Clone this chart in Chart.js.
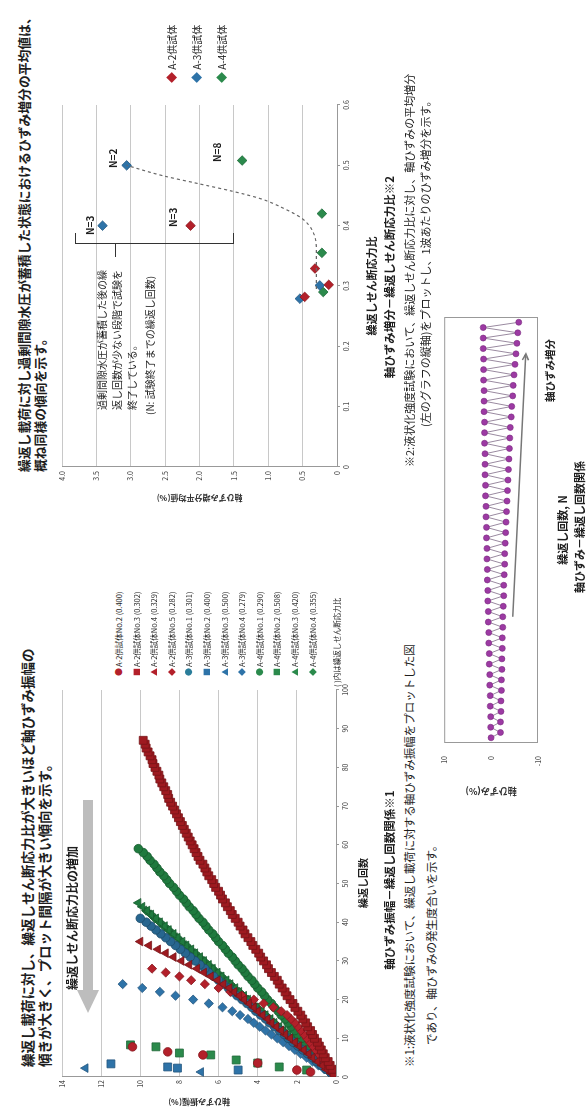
<!DOCTYPE html>
<html lang="ja">
<head>
<meta charset="utf-8">
<title>軸ひずみ振幅・軸ひずみ増分</title>
<script src="https://cdn.jsdelivr.net/npm/chart.js@4.4.1/dist/chart.umd.min.js"></script>
<style>
html, body { margin: 0; padding: 0; background: #fff; }
body { width: 588px; height: 1107px; overflow: hidden; position: relative; }
#page { position: absolute; left: 0; top: 0; width: 1107px; height: 588px;
  transform-origin: 0 0; transform: translate(0, 1107px) rotate(-90deg);
  font-family: 'Noto Sans CJK JP', sans-serif; color: #1e1e1e; }
#page canvas { position: absolute; }
.t { position: absolute; white-space: nowrap; line-height: 1; }
.b { font-weight: bold; }
.c { transform: translateX(-50%); }
.lg { position: absolute; white-space: nowrap; line-height: 1; font-size: 7.5px; }
.lg span { display: inline-block; width: 9px; font-size: 8px; }
</style>
</head>
<body>
<div id="page">
  <!-- 左：軸ひずみ振幅 -->
  <div class="t b" style="left:40px;top:21px;font-size:13.5px">繰返し載荷に対し、繰返しせん断応力比が大きいほど軸ひずみ振幅の</div>
  <div class="t b" style="left:40px;top:38px;font-size:13.5px">傾きが大きく、プロット間隔が大きい傾向を示す。</div>
  <canvas id="amp" width="425" height="315" style="left:0;top:50px"></canvas>
  <div class="t b" style="left:117px;top:66px;font-size:12px">繰返しせん断応力比の増加</div>
  <div style="position:absolute;left:117px;top:83px;width:190px;height:10px;background:#bdbdbd"></div>
  <div style="position:absolute;left:94px;top:77px;width:0;height:0;border-top:11px solid transparent;border-bottom:11px solid transparent;border-right:23px solid #bdbdbd"></div>
  <div id="legAmp"></div>
  <div class="t" style="left:420px;top:333px;font-size:7.5px">( )内は繰返しせん断応力比</div>
  <div class="t b c" style="left:224px;top:358px;font-size:10px">繰返し回数</div>
  <div class="t b c" style="left:227px;top:384px;font-size:11.5px">軸ひずみ振幅－繰返し回数関係※1</div>
  <div class="t" style="left:40px;top:404px;font-size:11.5px">※1:液状化強度試験において、繰返し載荷に対する軸ひずみ振幅をプロットした図</div>
  <div class="t" style="left:62px;top:426px;font-size:11.5px">であり、軸ひずみの発生度合いを示す。</div>

  <!-- 右：軸ひずみ増分 -->
  <div class="t b" style="left:635px;top:18px;font-size:12.8px">繰返し載荷に対し過剰間隙水圧が蓄積した状態におけるひずみ増分の平均値は、</div>
  <div class="t b" style="left:635px;top:34px;font-size:12.8px">概ね同様の傾向を示す。</div>
  <canvas id="inc" width="450" height="315" style="left:590px;top:50px"></canvas>
  <div id="legInc"></div>
  <div class="t b" style="left:939px;top:108px;font-size:10px">N=2</div>
  <div class="t b" style="left:872px;top:85px;font-size:10px">N=3</div>
  <div class="t b" style="left:880px;top:168px;font-size:10px">N=3</div>
  <div class="t b" style="left:945px;top:212px;font-size:10px">N=8</div>
  <div style="position:absolute;left:863px;top:75px;width:10px;height:157px;border:1px solid #333;border-right:none"></div>
  <div style="position:absolute;left:850px;top:115px;width:13px;height:0;border-top:1px solid #333"></div>
  <div class="t" style="left:697px;top:97px;font-size:10px">過剰間隙水圧が蓄積した後の繰</div>
  <div class="t" style="left:697px;top:112px;font-size:10px">返し回数が少ない段階で試験を</div>
  <div class="t" style="left:697px;top:127px;font-size:10px">終了している。</div>
  <div class="t" style="left:692px;top:145px;font-size:10px">(N: 試験終了までの繰返し回数)</div>
  <div class="t b c" style="left:821px;top:366px;font-size:11px">繰返しせん断応力比</div>
  <div class="t b c" style="left:830px;top:384px;font-size:11.5px">軸ひずみ増分－繰返しせん断応力比※2</div>
  <div class="t" style="left:640px;top:404px;font-size:11px">※2:液状化強度試験において、繰返しせん断応力比に対し、軸ひずみの平均増分</div>
  <div class="t" style="left:680px;top:420px;font-size:11px">(左のグラフの縦軸)をプロットし、1波あたりのひずみ増分を示す。</div>

  <!-- 模式図 -->
  <canvas id="schem" width="510" height="120" style="left:290px;top:435px"></canvas>
  <div class="t b" style="left:705px;top:545px;font-size:10.5px">軸ひずみ増分</div>
  <div class="t b c" style="left:577px;top:557px;font-size:11px">繰返し回数, N</div>
  <div class="t b c" style="left:580px;top:574px;font-size:11px">軸ひずみ－繰返し回数関係</div>
</div>

<script>
// 左グラフ：軸ひずみ振幅(%)。N配列のないものは N = 1,2,3... の各波
const N_A2_2 = [1.3, 1.8, 3.6, 5.7, 6.5, 7.8];
const S_A2_2 = [1.3, 2.0, 4.0, 6.8, 8.6, 10.4];
const S_A2_3 = [0.1, 0.2, 0.3, 0.4, 0.55, 0.65, 0.75, 0.85, 0.95, 1.1,
  1.2, 1.3, 1.45, 1.55, 1.7, 1.8, 1.95, 2.1, 2.2, 2.35,
  2.5, 2.6, 2.75, 2.9, 3.0, 3.15, 3.3, 3.45, 3.55, 3.7,
  3.85, 3.95, 4.1, 4.25, 4.35, 4.5, 4.65, 4.75, 4.9, 5.0,
  5.15, 5.3, 5.4, 5.55, 5.65, 5.8, 5.9, 6.0, 6.15, 6.25,
  6.35, 6.5, 6.6, 6.7, 6.8, 6.95, 7.05, 7.15, 7.25, 7.35,
  7.45, 7.55, 7.65, 7.75, 7.85, 7.95, 8.05, 8.15, 8.25, 8.35,
  8.45, 8.55, 8.6, 8.7, 8.8, 8.9, 9.0, 9.05, 9.15, 9.25,
  9.35, 9.4, 9.5, 9.6, 9.7, 9.75, 9.85];
const S_A2_4 = [0.25, 0.5, 0.7, 0.95, 1.2, 1.4, 1.65, 1.9, 2.1, 2.35,
  2.6, 2.8, 3.05, 3.3, 3.5, 3.75, 4.0, 4.2, 4.45, 4.7,
  4.95, 5.2, 5.45, 5.75, 6.05, 6.4, 6.75, 7.1, 7.5, 7.9,
  8.3, 8.7, 9.1, 9.55, 10.0];
const S_A2_5 = [0.15, 0.3, 0.45, 0.6, 0.75, 0.9, 1.05, 1.2, 1.35, 1.5,
  1.65, 1.8, 1.95, 2.1, 2.3, 2.5, 2.8, 3.2, 3.7, 4.2,
  4.8, 5.4, 6.0, 6.7, 7.4, 8.0, 8.7, 9.4];
const S_A3_1 = [0.25, 0.5, 0.75, 1.0, 1.2, 1.45, 1.7, 1.95, 2.2, 2.45,
  2.65, 2.9, 3.15, 3.4, 3.6, 3.85, 4.1, 4.3, 4.55, 4.8,
  5.05, 5.3, 5.5, 5.75, 6.0, 6.25, 6.5, 6.7, 6.95, 7.2,
  7.45, 7.7, 7.95, 8.2, 8.45, 8.7, 8.95, 9.2, 9.45, 9.7, 10.0];
const N_A3_2 = [1.8, 2.3, 2.6, 3.4];
const S_A3_2 = [5.0, 8.1, 8.6, 11.5];
const N_A3_3 = [1.3, 2.3];
const S_A3_3 = [6.9, 12.8];
const S_A3_4 = [0.3, 0.6, 0.9, 1.2, 1.5, 1.8, 2.1, 2.4, 2.7, 3.0,
  3.3, 3.6, 3.9, 4.2, 4.5, 4.9, 5.3, 5.8, 6.5, 7.3,
  8.2, 9.0, 9.9, 10.9];
const S_A4_1 = [0.2, 0.35, 0.55, 0.7, 0.9, 1.05, 1.25, 1.4, 1.6, 1.75,
  1.95, 2.1, 2.3, 2.45, 2.6, 2.8, 2.95, 3.15, 3.3, 3.5,
  3.65, 3.8, 4.0, 4.15, 4.3, 4.5, 4.65, 4.8, 5.0, 5.15,
  5.3, 5.5, 5.65, 5.8, 6.0, 6.15, 6.3, 6.5, 6.65, 6.8,
  7.0, 7.15, 7.3, 7.5, 7.65, 7.8, 8.0, 8.15, 8.3, 8.5,
  8.65, 8.8, 9.0, 9.15, 9.3, 9.5, 9.65, 9.85, 10.1];
const N_A4_2 = [1.8, 2.6, 3.6, 4.4, 5.7, 6.2, 7.8, 8.3];
const S_A4_2 = [1.5, 2.9, 4.0, 5.1, 6.4, 8.0, 9.2, 10.5];
const S_A4_3 = [0.2, 0.45, 0.65, 0.9, 1.1, 1.35, 1.55, 1.8, 2.0, 2.25,
  2.45, 2.7, 2.9, 3.15, 3.35, 3.6, 3.8, 4.05, 4.25, 4.5,
  4.7, 4.95, 5.15, 5.4, 5.6, 5.85, 6.05, 6.3, 6.5, 6.75,
  6.95, 7.2, 7.4, 7.65, 7.85, 8.1, 8.3, 8.55, 8.75, 9.0,
  9.2, 9.45, 9.65, 9.9, 10.1];
const S_A4_4 = [0.25, 0.45, 0.7, 0.9, 1.15, 1.35, 1.6, 1.8, 2.05, 2.25,
  2.5, 2.7, 2.95, 3.15, 3.4, 3.6, 3.85, 4.05, 4.3, 4.5,
  4.75, 4.95, 5.2, 5.4, 5.65, 5.85, 6.1, 6.3, 6.55, 6.75,
  7.0, 7.2, 7.45, 7.65, 7.9, 8.1, 8.35, 8.55, 8.8, 9.0,
  9.25, 9.45, 9.7];

// 右グラフ：繰返しせん断応力比と軸ひずみ増分平均値(%)
const ratioA2 = [0.400, 0.302, 0.329, 0.282];
const incA2 = [2.13, 0.12, 0.32, 0.47];
const ratioA3 = [0.301, 0.400, 0.500, 0.279];
const incA3 = [0.25, 3.41, 3.06, 0.54];
const ratioA4 = [0.290, 0.508, 0.420, 0.355];
const incA4 = [0.20, 1.38, 0.22, 0.22];
const trendRatio = [0.295, 0.36, 0.39, 0.412, 0.43, 0.445, 0.457, 0.47, 0.483, 0.50];
const trendInc = [0.30, 0.30, 0.35, 0.51, 0.80, 1.12, 1.52, 2.03, 2.54, 3.06];

// 模式図：各波の山と谷の軸ひずみ(%)
const schemTop = [0.0, 0.1, 0.1, 0.2, 0.2, 0.3, 0.3, 0.4, 0.4, 0.5,
  0.5, 0.6, 0.6, 0.7, 0.7, 0.8, 0.8, 0.9, 0.9, 1.0,
  1.0, 1.1, 1.1, 1.2, 1.2, 1.3, 1.3, 1.3, 1.4, 1.4,
  1.4, 1.5, 1.5, 1.5, 1.6, 1.6, 1.6, 1.7, 1.7, 1.7];
const schemBottom = [-2.0, -2.0, -2.1, -2.1, -2.2, -2.2, -2.3, -2.3, -2.4, -2.4,
  -2.5, -2.5, -2.6, -2.7, -2.7, -2.8, -2.9, -2.9, -3.0, -3.1,
  -3.2, -3.3, -3.4, -3.5, -3.6, -3.7, -3.8, -3.9, -4.0, -4.1,
  -4.3, -4.4, -4.6, -4.7, -4.9, -5.1, -5.3, -5.5, -5.7, -5.9];
const schemArrow = [[12, -4.6], [37, -7.4]]; // 軸ひずみ増分の矢印 (N, %)

const RED = '#b3202a', RED_D = '#8c141b';
const BLUE = '#2e73a8', BLUE_D = '#1f5580';
const GREEN = '#2b8a4c', GREEN_D = '#1c6a37';
// 密な曲線は暗めの色で太い帯に見える
const RED_BAND = '#9e1a20', BLUE_BAND = '#27668f', GREEN_BAND = '#1f7a3e';

Chart.defaults.font.family = "'Noto Sans CJK JP', sans-serif";
Chart.defaults.color = '#333';

function fixWidth(w) { return function (s) { s.width = w; }; }
function fixHeight(h) { return function (s) { s.height = h; }; }

function pts(ns, vals) {
  return vals.map(function (v, i) { return { x: ns ? ns[i] : i + 1, y: v }; });
}

// [凡例, N, 値, 形, 凡例色, 点の色, 記号]
const ampSeries = [
  ['A-2供試体No.2 (0.400)', N_A2_2, S_A2_2, 'circle', RED, RED, '●'],
  ['A-2供試体No.3 (0.302)', null, S_A2_3, 'rect', RED, RED_BAND, '■'],
  ['A-2供試体No.4 (0.329)', null, S_A2_4, 'triangle', RED, RED_BAND, '▲'],
  ['A-2供試体No.5 (0.282)', null, S_A2_5, 'rectRot', RED, RED, '◆'],
  ['A-3供試体No.1 (0.301)', null, S_A3_1, 'circle', '#2a7d9a', BLUE_BAND, '●'],
  ['A-3供試体No.2 (0.400)', N_A3_2, S_A3_2, 'rect', BLUE, BLUE, '■'],
  ['A-3供試体No.3 (0.500)', N_A3_3, S_A3_3, 'triangle', BLUE, BLUE, '▲'],
  ['A-3供試体No.4 (0.279)', null, S_A3_4, 'rectRot', BLUE, BLUE, '◆'],
  ['A-4供試体No.1 (0.290)', null, S_A4_1, 'circle', GREEN, GREEN_BAND, '●'],
  ['A-4供試体No.2 (0.508)', N_A4_2, S_A4_2, 'rect', GREEN, GREEN, '■'],
  ['A-4供試体No.3 (0.420)', null, S_A4_3, 'triangle', GREEN, GREEN_BAND, '▲'],
  ['A-4供試体No.4 (0.355)', null, S_A4_4, 'rectRot', GREEN, GREEN_BAND, '◆']
];

const radiusFor = { circle: 4.3, rect: 5.6, triangle: 5.0, rectRot: 4.6 };

function darker(hex) {
  const n = parseInt(hex.slice(1), 16);
  const r = Math.round(((n >> 16) & 255) * 0.75), g = Math.round(((n >> 8) & 255) * 0.75), b = Math.round((n & 255) * 0.75);
  return 'rgb(' + r + ',' + g + ',' + b + ')';
}

new Chart(document.getElementById('amp'), {
  type: 'scatter',
  data: {
    datasets: ampSeries.map(function (s) {
      return {
        label: s[0], data: pts(s[1], s[2]), pointStyle: s[3],
        pointRadius: radiusFor[s[3]], backgroundColor: s[5],
        borderColor: darker(s[5]), borderWidth: 0.8, showLine: false
      };
    })
  },
  options: {
    responsive: false, animation: false,
    layout: { padding: { top: 12, right: 8, left: 0, bottom: 0 } },
    plugins: { legend: { display: false }, tooltip: { enabled: false } },
    scales: {
      x: {
        type: 'linear', min: 0, max: 100, afterFit: fixHeight(29),
        ticks: { stepSize: 10, font: { size: 7 }, maxRotation: 0, padding: 2 },
        grid: { drawOnChartArea: false, tickLength: 3, color: '#999' },
        border: { color: '#999' }
      },
      y: {
        min: 0, max: 14, afterFit: fixWidth(30),
        ticks: { stepSize: 2, font: { size: 7 }, padding: 3 },
        grid: { color: '#c8c8c8', drawTicks: false },
        border: { color: '#999' },
        title: { display: true, text: '軸ひずみ振幅(%)', font: { size: 8, weight: 'bold' }, padding: 0 }
      }
    }
  }
});

// 左グラフの凡例
let legHtml = '';
ampSeries.forEach(function (s, i) {
  legHtml += '<div class="lg" style="left:431px;top:' + (115 + i * 17.6) + 'px"><span style="color:' + s[4] + '">' + s[6] + '</span>' + s[0] + '</div>';
});
document.getElementById('legAmp').innerHTML = legHtml;

// 右グラフ
const incSeries = [
  ['A-2供試体', ratioA2, incA2, RED, RED_D],
  ['A-3供試体', ratioA3, incA3, BLUE, BLUE_D],
  ['A-4供試体', ratioA4, incA4, GREEN, GREEN_D]
];

const incDatasets = incSeries.map(function (s) {
  return {
    label: s[0], data: pts(s[1], s[2]), pointStyle: 'rectRot', pointRadius: 4.8,
    backgroundColor: s[3], borderColor: s[4], borderWidth: 0.8, showLine: false
  };
});
incDatasets.unshift({
  label: 'trend', data: pts(trendRatio, trendInc), showLine: true, pointRadius: 0,
  borderColor: '#666', borderWidth: 1.2, borderDash: [3, 3], tension: 0.4, cubicInterpolationMode: 'monotone'
});

new Chart(document.getElementById('inc'), {
  type: 'scatter',
  data: { datasets: incDatasets },
  options: {
    responsive: false, animation: false,
    layout: { padding: { top: 12, right: 38, left: 0, bottom: 0 } },
    plugins: { legend: { display: false }, tooltip: { enabled: false } },
    scales: {
      x: {
        type: 'linear', min: 0, max: 0.6, afterFit: fixHeight(28),
        ticks: { stepSize: 0.1, font: { size: 7 }, maxRotation: 0, padding: 2,
          callback: function (v) { return +v.toFixed(1); } },
        grid: { drawOnChartArea: false, tickLength: 3, color: '#999' },
        border: { color: '#999' }
      },
      y: {
        min: 0, max: 4, afterFit: fixWidth(50),
        ticks: { stepSize: 0.5, font: { size: 7 }, padding: 4 },
        grid: { color: '#c8c8c8', drawTicks: false },
        border: { color: '#999' },
        title: { display: true, text: '軸ひずみ増分平均値(%)', font: { size: 8, weight: 'bold' }, padding: { top: 14, bottom: 0 } }
      }
    }
  }
});

let legIncHtml = '';
incSeries.forEach(function (s, i) {
  legIncHtml += '<div class="t" style="left:1024px;top:' + (166 + i * 25) + 'px;font-size:10px"><span style="color:' + s[3] + ';font-size:11px">◆</span> ' + s[0] + '</div>';
});
document.getElementById('legInc').innerHTML = legIncHtml;

// 模式図
const zig = [];
schemTop.forEach(function (v, i) {
  zig.push({ x: i + 0.5, y: v });
  zig.push({ x: i + 1, y: schemBottom[i] });
});

const schemFrame = {
  id: 'schemFrame',
  afterDraw: function (chart) {
    const a = chart.chartArea, ctx = chart.ctx;
    const xs = chart.scales.x, ys = chart.scales.y;
    ctx.save();
    ctx.strokeStyle = '#999';
    ctx.lineWidth = 1;
    ctx.strokeRect(a.left + 0.5, a.top + 0.5, a.right - a.left - 1, a.bottom - a.top - 1);
    const x0 = xs.getPixelForValue(schemArrow[0][0]), y0 = ys.getPixelForValue(schemArrow[0][1]);
    const x1 = xs.getPixelForValue(schemArrow[1][0]), y1 = ys.getPixelForValue(schemArrow[1][1]);
    const ang = Math.atan2(y1 - y0, x1 - x0);
    ctx.strokeStyle = '#777';
    ctx.lineWidth = 1.5;
    ctx.beginPath();
    ctx.moveTo(x0, y0);
    ctx.lineTo(x1, y1);
    ctx.moveTo(x1 - 7 * Math.cos(ang - 0.45), y1 - 7 * Math.sin(ang - 0.45));
    ctx.lineTo(x1, y1);
    ctx.lineTo(x1 - 7 * Math.cos(ang + 0.45), y1 - 7 * Math.sin(ang + 0.45));
    ctx.stroke();
    ctx.restore();
  }
};

new Chart(document.getElementById('schem'), {
  type: 'scatter',
  data: {
    datasets: [{
      data: zig, showLine: true, borderColor: '#9a8aa0', borderWidth: 1,
      pointRadius: 3, pointStyle: 'circle', backgroundColor: '#9c3aa3', pointBorderColor: '#7a2a80', pointBorderWidth: 0.6
    }]
  },
  options: {
    responsive: false, animation: false,
    layout: { padding: { top: 8, right: 10, left: 20, bottom: 0 } },
    plugins: { legend: { display: false }, tooltip: { enabled: false } },
    scales: {
      x: {
        type: 'linear', min: 0, max: 40.5, afterFit: fixHeight(17),
        ticks: { display: false }, grid: { display: false }, border: { display: false }
      },
      y: {
        min: -10, max: 10, afterFit: fixWidth(54),
        ticks: { stepSize: 10, font: { size: 7 }, padding: 5 },
        grid: { display: false }, border: { display: false },
        title: { display: true, text: '軸ひずみ(%)', font: { size: 9, weight: 'bold' }, padding: 0 }
      }
    }
  },
  plugins: [schemFrame]
});
</script>
</body>
</html>
